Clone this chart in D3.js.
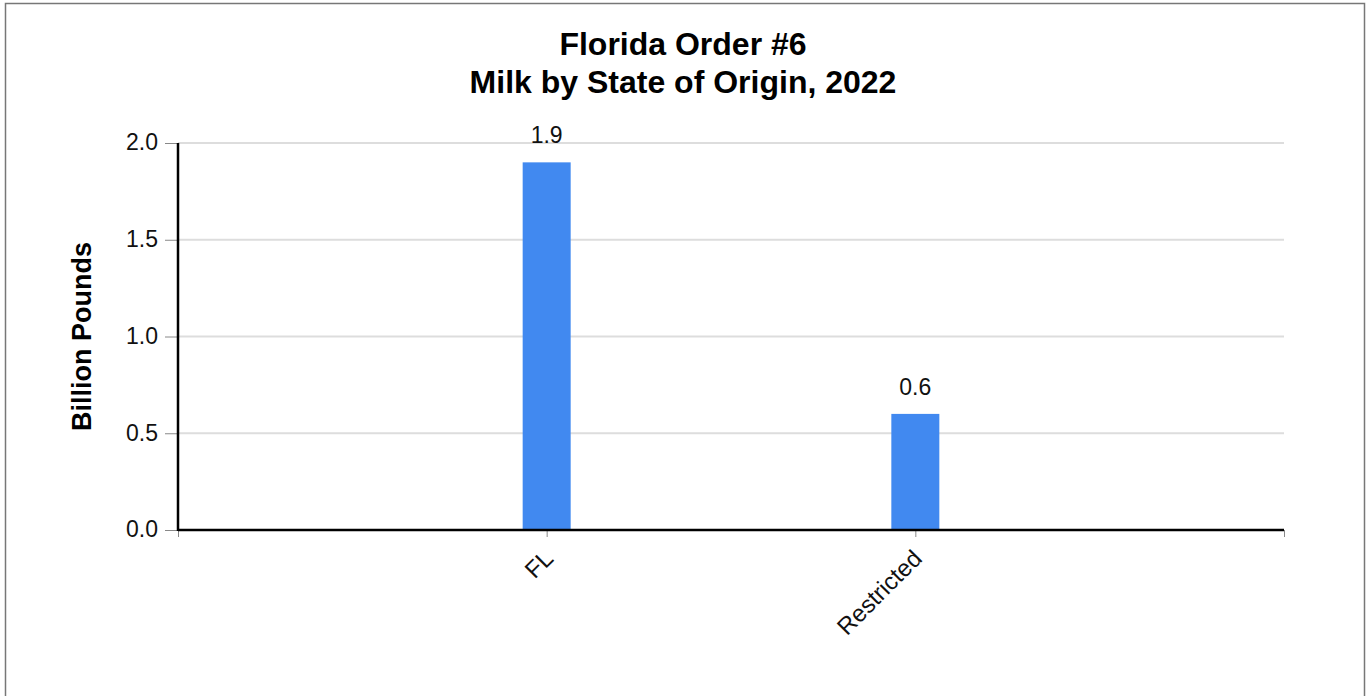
<!DOCTYPE html>
<html>
<head>
<meta charset="utf-8">
<script src="https://cdn.jsdelivr.net/npm/d3@7"></script>
<style>
  html, body { margin: 0; padding: 0; background: #fff; }
  svg { display: block; font-family: Arial, "Liberation Sans", sans-serif; }
</style>
</head>
<body>
<svg id="chart" width="1366" height="696"></svg>
<script>
const titleLines = ["Florida Order #6", "Milk by State of Origin, 2022"];
const yAxisTitle = "Billion Pounds";
const categories = ["FL", "Restricted"];
const values = [1.9, 0.6];
const yTicks = [0, 0.5, 1.0, 1.5, 2.0];

(function () {
const svg = d3.select("#chart");
const W = 1366, H = 696;
const mLeft = 178, mRight = 1284, mTop = 143, mBottom = 530;

// outer border
svg.append("rect")
  .attr("x", 5.5).attr("y", 3.5)
  .attr("width", 1359).attr("height", 720)
  .attr("fill", "none").attr("stroke", "#777").attr("stroke-width", 1.5);

const x = d3.scaleLinear().domain([0, categories.length + 1]).range([mLeft, mRight]);
const y = d3.scaleLinear().domain([0, 2]).range([mBottom, mTop]);

// gridlines
svg.append("g").selectAll("line")
  .data(yTicks.filter(d => d > 0))
  .join("line")
  .attr("x1", mLeft).attr("x2", mRight)
  .attr("y1", d => y(d)).attr("y2", d => y(d))
  .attr("stroke", "#dddddd").attr("stroke-width", 2);

// y axis
const yAxis = svg.append("g")
  .attr("transform", `translate(${mLeft},0)`)
  .call(d3.axisLeft(y).tickValues(yTicks).tickFormat(d3.format(".1f")).tickSize(13).tickPadding(7));
yAxis.select(".domain").remove();
yAxis.selectAll(".tick line").attr("stroke", "#888").attr("stroke-width", 1);
yAxis.selectAll(".tick text")
  .attr("font-size", 23).attr("fill", "#111")
  .attr("font-family", "Arial, 'Liberation Sans', sans-serif")
  .attr("dy", "0.3em");

// bars
svg.append("g").selectAll("rect")
  .data(values)
  .join("rect")
  .attr("x", (d, i) => x(i + 1) - 24)
  .attr("width", 48)
  .attr("y", d => y(d))
  .attr("height", d => y(0) - y(d))
  .attr("fill", "#4189f0");

// value labels
svg.append("g").selectAll("text")
  .data(values)
  .join("text")
  .attr("x", (d, i) => x(i + 1))
  .attr("y", d => y(d) - 19)
  .attr("text-anchor", "middle")
  .attr("font-size", 23).attr("fill", "#111")
  .text(d => d3.format(".1f")(d));

// x axis
const xTickVals = d3.range(0, categories.length + 2);
const xAxis = svg.append("g")
  .attr("transform", `translate(0,${mBottom})`)
  .call(d3.axisBottom(x).tickValues(xTickVals).tickSize(7).tickFormat(""));
xAxis.select(".domain").remove();
xAxis.selectAll(".tick line").attr("stroke", "#888").attr("stroke-width", 1);

// axis lines (black)
svg.append("line")
  .attr("x1", mLeft).attr("x2", mRight)
  .attr("y1", mBottom).attr("y2", mBottom)
  .attr("stroke", "#000").attr("stroke-width", 2.5);
svg.append("line")
  .attr("x1", mLeft).attr("x2", mLeft)
  .attr("y1", mTop).attr("y2", mBottom + 1)
  .attr("stroke", "#000").attr("stroke-width", 2.5);

// x tick labels
svg.append("g").selectAll("text")
  .data(categories)
  .join("text")
  .attr("transform", (d, i) => `translate(${x(i + 1) + 8},${mBottom + 30}) rotate(-45)`)
  .attr("text-anchor", "end")
  .attr("font-size", 24).attr("fill", "#111")
  .text(d => d);

// y axis title
svg.append("text")
  .attr("transform", `translate(91,${(mTop + mBottom) / 2}) rotate(-90)`)
  .attr("text-anchor", "middle")
  .attr("font-size", 27).attr("font-weight", "bold").attr("fill", "#000")
  .text(yAxisTitle);

// title
svg.append("g").selectAll("text")
  .data(titleLines)
  .join("text")
  .attr("x", W / 2)
  .attr("y", (d, i) => 55 + i * 37.5)
  .attr("text-anchor", "middle")
  .attr("font-size", 32).attr("font-weight", "bold").attr("fill", "#000")
  .text(d => d);
})();
</script>
</body>
</html>
